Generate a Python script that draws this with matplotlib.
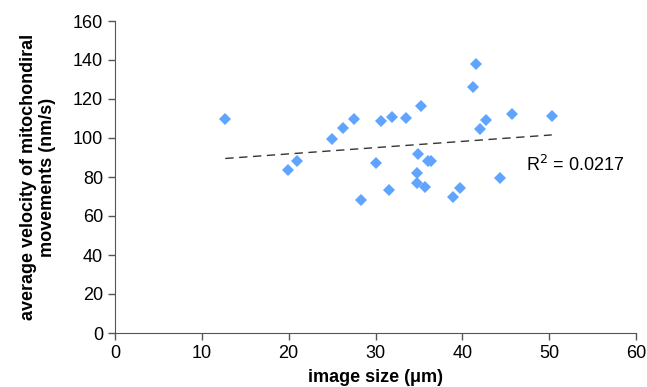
import numpy as np
import matplotlib.pyplot as plt

plt.rcParams['font.family'] = ['Liberation Sans', 'DejaVu Sans']

# image size (um) vs average velocity (nm/s)
size_um = [12.7, 19.9, 21.0, 25.0, 26.2, 27.5, 28.3, 30.1, 30.6, 31.5,
           31.9, 33.5, 34.8, 34.8, 34.9, 35.2, 35.7, 36.1, 36.4, 38.9,
           39.7, 41.2, 41.6, 42.0, 42.7, 44.3, 45.7, 50.3]
velocity = [109.9, 83.7, 88.2, 99.5, 105.1, 109.9, 68.2, 87.4, 108.6, 73.3,
            110.8, 110.1, 81.9, 76.9, 91.6, 116.3, 75.0, 88.2, 88.2, 69.9,
            74.2, 126.2, 138.1, 104.4, 109.2, 79.6, 112.1, 111.3]

x_ticks = [0, 10, 20, 30, 40, 50, 60]
y_ticks = [0, 20, 40, 60, 80, 100, 120, 140, 160]
r2_label = 'R$^2$ = 0.0217'

fig = plt.figure(figsize=(6.47, 3.87), dpi=100)
ax = fig.add_axes([115 / 647, 1 - 333 / 387, (636 - 115) / 647, (333 - 21) / 387])

ax.plot(size_um, velocity, linestyle='none', marker='D', markersize=6.5,
        color='#5fa5ff', markeredgewidth=0)

# linear trend line
k, c = np.polyfit(size_um, velocity, 1)
xs = np.array([min(size_um), max(size_um)])
ax.plot(xs, k * xs + c, color='#333333', linestyle=(0, (6, 4)), linewidth=1)

ax.text(47.3, 86, r2_label, fontsize=13, va='center', ha='left')

ax.set_xlim(0, 60)
ax.set_ylim(0, 160)
ax.set_xticks(x_ticks)
ax.set_yticks(y_ticks)
ax.tick_params(labelsize=13, length=5, width=1, color='#555555')
for s in ['top', 'right']:
    ax.spines[s].set_visible(False)
for s in ['left', 'bottom']:
    ax.spines[s].set_color('#555555')

ax.set_xlabel('image size (\u03bcm)', fontsize=13, fontweight='bold', labelpad=5)
ax.set_ylabel('average velocity of mitochondiral\nmovements (nm/s)', fontsize=13,
              fontweight='bold', labelpad=12)

fig.savefig('out.png', dpi=100)
